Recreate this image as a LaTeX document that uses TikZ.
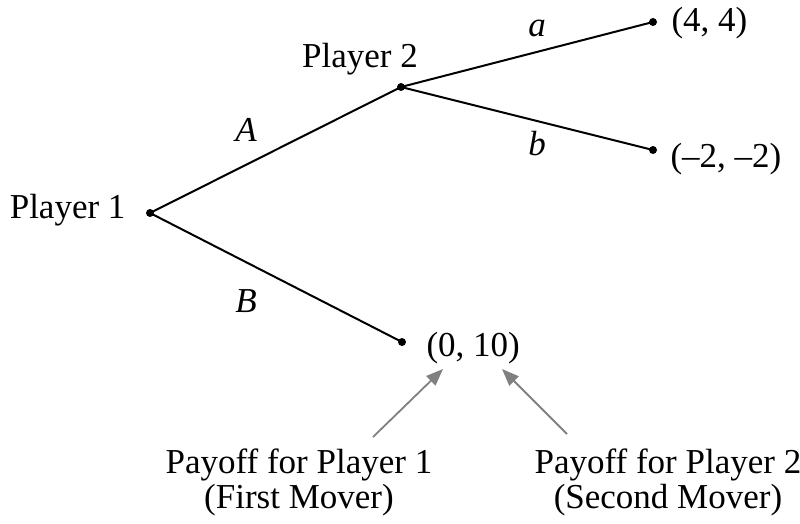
\documentclass[tikz,border=0pt]{standalone}
\usepackage{fontspec}
\setmainfont{Liberation Serif}
\usetikzlibrary{arrows.meta}

\tikzset{
  txt/.style={font=\fontsize{35}{35}\selectfont},
  mv/.style={txt,font=\fontsize{35}{35}\selectfont\itshape},
  dot/.style={circle,fill=black,inner sep=0pt,minimum size=8pt},
  branch/.style={line width=2pt,black},
  pointer/.style={line width=1.8pt,gray,-{Triangle[length=17pt,width=13pt]}}
}

\begin{document}
\begin{tikzpicture}[x=1pt,y=-1pt]
    \useasboundingbox (0,0) rectangle (800,524);
    % decision nodes and end points
    \node[dot] (p1) at (150,213) {};
    \node[dot] (p2) at (401,87) {};
    \node[dot] (e1) at (653,22) {};
    \node[dot] (e2) at (653,150) {};
    \node[dot] (e3) at (402,342) {};
    \foreach \a/\b in {p1/p2,p1/e3,p2/e1,p2/e2}
      \draw[branch] (\a.center) -- (\b.center);
    % players
    \node[txt,anchor=base east] (n1) at (129,218) {Player 1};
    \node[txt,anchor=base] (n2) at (360,68) {Player 2};
    % moves
    \node[mv,anchor=base] (mA) at (246,142) {A};
    \node[mv,anchor=base] (mB) at (246,312) {B};
    \node[mv,anchor=base] (ma) at (537,37) {a};
    \node[mv,anchor=base] (mb) at (537,155) {b};
    % payoffs
    \node[txt,anchor=base west] (v1) at (668,32) {(4, 4)};
    \node[txt,anchor=base west] (v2) at (667,167) {(\textendash2, \textendash2)};
    \node[txt,anchor=base west] (v3) at (423,356) {(0, 10)};
    % captions
    \node[txt,anchor=base,align=center] (c1) at (299,508) {Payoff for Player 1\\(First Mover)};
    \node[txt,anchor=base,align=center] (c2) at (668,508) {Payoff for Player 2\\(Second Mover)};
    \coordinate (t1) at (373,437);
    \coordinate (h1) at (443,369);
    \coordinate (t2) at (567,434);
    \coordinate (h2) at (502,369);
    \draw[pointer] (t1) -- (h1);
    \draw[pointer] (t2) -- (h2);
\end{tikzpicture}
\end{document}
